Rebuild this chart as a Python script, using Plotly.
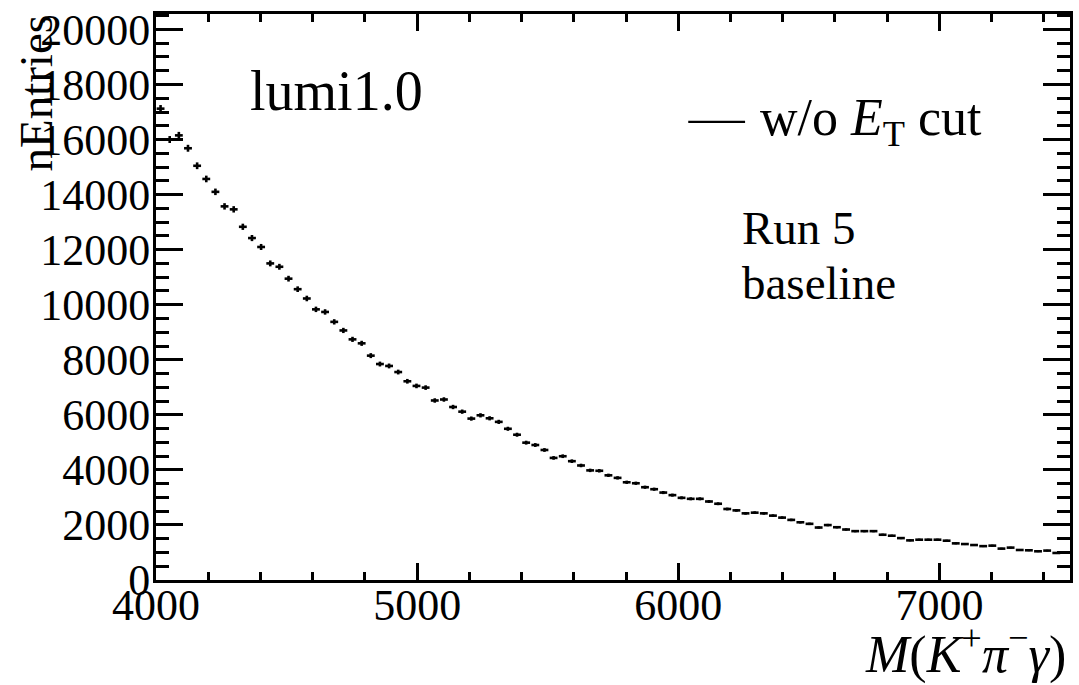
import numpy as np
import plotly.graph_objects as go

# ---- data ----
x_min, x_max, n_bins = 4000, 7500, 100
counts = [17122, 16000, 16151, 15683, 15047, 14568, 14100, 13572, 13464, 12830,
          12421, 12097, 11500, 11378, 10946, 10564, 10226, 9831, 9737, 9377,
          9065, 8741, 8597, 8150, 7845, 7775, 7554, 7219, 7050, 6989,
          6521, 6557, 6284, 6115, 5863, 5982, 5874, 5744, 5493, 5277,
          4989, 4903, 4723, 4435, 4496, 4316, 4160, 3982, 3968, 3802,
          3710, 3550, 3514, 3370, 3298, 3176, 3083, 2985, 2949, 2949,
          2852, 2770, 2579, 2529, 2421, 2446, 2421, 2338, 2266, 2183,
          2097, 2040, 1906, 1995, 1917, 1834, 1775, 1775, 1775, 1644,
          1608, 1522, 1440, 1464, 1464, 1464, 1428, 1331, 1306, 1270,
          1230, 1248, 1140, 1176, 1090, 1079, 1043, 1068, 982, 996]
y_max = 20560
x_ticks = [4000, 5000, 6000, 7000]
y_ticks = list(range(0, 20001, 2000))

edges = np.linspace(x_min, x_max, n_bins + 1)
centers = 0.5 * (edges[:-1] + edges[1:])
half_w = 0.5 * (edges[1] - edges[0])
errs = np.sqrt(np.array(counts, dtype=float))

FONT = "'Liberation Serif', 'Times New Roman', Times, serif"

fig = go.Figure()
fig.add_trace(go.Scatter(
    x=centers, y=counts, mode="markers",
    marker=dict(size=1, color="black"),
    error_y=dict(type="data", array=errs, width=0, thickness=2.6, color="black"),
    error_x=dict(type="constant", value=half_w * 0.86, width=0, thickness=2.6, color="black"),
    showlegend=False, hoverinfo="x+y"))

# plot-area pixel geometry helpers (layout only)
L, R, T, B = 156, 1073, 8, 580
def px(x):
    return (x - L) / (R - L)
def py(y):
    return (B - y) / (B - T)

fig.update_layout(
    width=1079, height=685,
    margin=dict(l=L, r=1079 - R, t=T, b=685 - B),
    paper_bgcolor="white", plot_bgcolor="white",
    font=dict(family=FONT, color="black"),
    xaxis=dict(range=[x_min, x_max], showline=True, linecolor="black", linewidth=3,
               mirror="allticks", ticks="inside", ticklen=17, tickwidth=2.5, tickcolor="black",
               tickvals=x_ticks, ticktext=[str(v) for v in x_ticks],
               minor=dict(dtick=200, tick0=4000, ticks="inside", ticklen=8, tickwidth=2.5, tickcolor="black"),
               tickfont=dict(family=FONT, size=44, color="black"),
               ticklabelstandoff=-16,
               showgrid=False, zeroline=False),
    yaxis=dict(range=[0, y_max], showline=True, linecolor="black", linewidth=3,
               mirror="allticks", ticks="inside", ticklen=27, tickwidth=2.5, tickcolor="black",
               tickvals=y_ticks, ticktext=[str(v) for v in y_ticks],
               minor=dict(dtick=500, tick0=0, ticks="inside", ticklen=13, tickwidth=2.5, tickcolor="black"),
               tickfont=dict(family=FONT, size=44, color="black"),
               ticklabelstandoff=-6,
               showgrid=False, zeroline=False),
)

ann = []
ann.append(dict(text="lumi1.0", x=px(248), y=py(86), xref="paper", yref="paper",
                xanchor="left", yanchor="middle", showarrow=False,
                font=dict(family=FONT, size=56, color="black")))
ann.append(dict(text="w/o <i>E</i><sub>T</sub> cut", x=px(760), y=py(117), xref="paper", yref="paper",
                xanchor="left", yanchor="middle", showarrow=False,
                font=dict(family=FONT, size=52, color="black")))
ann.append(dict(text="Run 5", x=px(742), y=py(224), xref="paper", yref="paper",
                xanchor="left", yanchor="middle", showarrow=False,
                font=dict(family=FONT, size=47, color="black")))
ann.append(dict(text="baseline", x=px(742), y=py(280), xref="paper", yref="paper",
                xanchor="left", yanchor="middle", showarrow=False,
                font=dict(family=FONT, size=47, color="black")))
ann.append(dict(text="<i>M</i>(<i>K</i><sup>+</sup><i>π</i><sup>−</sup><i>γ</i>)",
                x=px(1071), y=py(652), xref="paper", yref="paper",
                xanchor="right", yanchor="middle", showarrow=False,
                font=dict(family=FONT, size=52, color="black")))
ann.append(dict(text="nEntries", x=px(36), y=py(88), xref="paper", yref="paper",
                xanchor="center", yanchor="middle", textangle=-90, showarrow=False,
                font=dict(family=FONT, size=47, color="black")))
fig.update_layout(annotations=ann)

fig.add_shape(type="line", xref="paper", yref="paper",
              x0=px(690), x1=px(747), y0=py(117), y1=py(117),
              line=dict(color="black", width=2.2))

fig.write_html("out.html")
